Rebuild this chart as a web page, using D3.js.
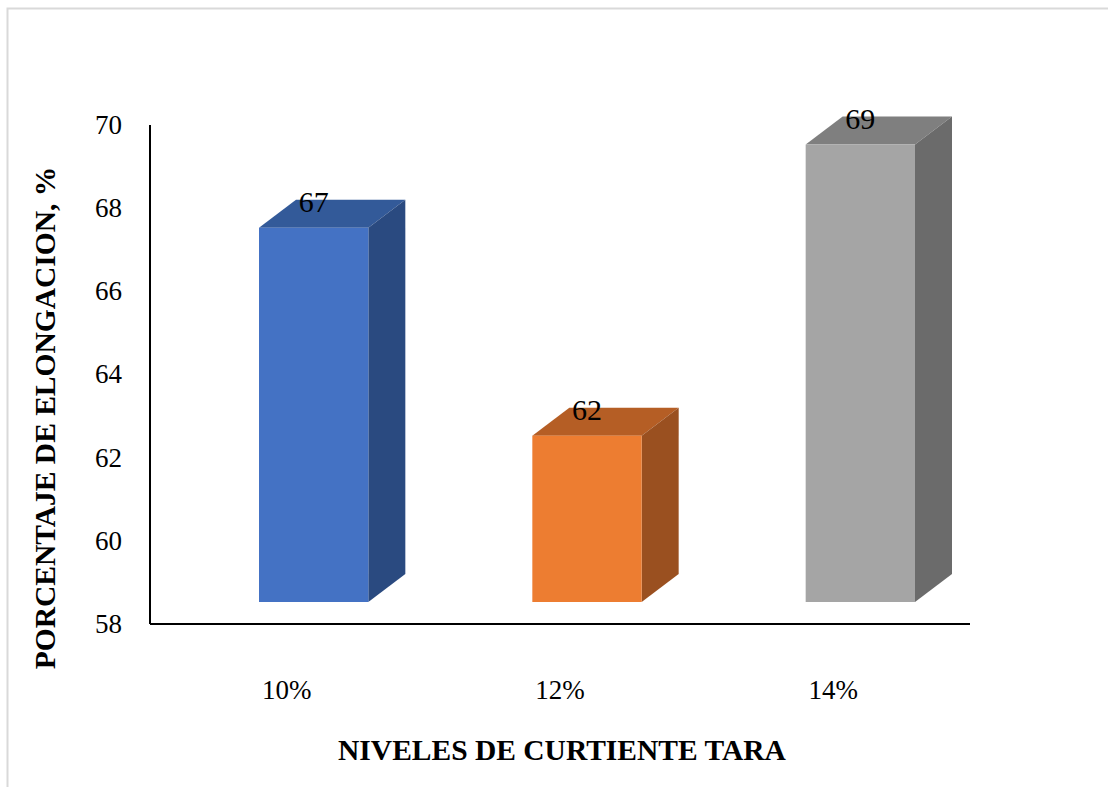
<!DOCTYPE html>
<html>
<head>
<meta charset="utf-8">
<script src="https://cdn.jsdelivr.net/npm/d3@7"></script>
<style>
	body { margin: 0; background: #fff; }
	text { font-family: "Liberation Serif", "Times New Roman", serif; }
</style>
</head>
<body>
<svg id="chart"></svg>
<script>
// data
const categories = ["10%", "12%", "14%"];
const values = [67, 62, 69];
const yTicks = [58, 60, 62, 64, 66, 68, 70];
const faceColors = ["#4472c4", "#ed7d31", "#a5a5a5"];
const topColors = ["#335a99", "#b55e25", "#7f7f7f"];
const sideColors = ["#2a4a80", "#9a5020", "#6b6b6b"];

const svgWidth = 1108, svgHeight = 787;
let svg = d3.select("#chart")
	.attr("width", svgWidth)
	.attr("height", svgHeight)
	.style("display", "block");

// outer frame
svg.append("rect")
	.attr("x", 7.5)
	.attr("y", 8.5)
	.attr("width", 1120)
	.attr("height", 800)
	.attr("fill", "none")
	.attr("stroke", "#d9d9d9")
	.attr("stroke-width", 2);

let margin = { left: 150, top: 125, right: 970, bottom: 624 };

//scales
let x = d3.scaleBand()
	.domain(categories)
	.range([margin.left, margin.right]);
let y = d3.scaleLinear()
	.domain([58, 70])
	.range([margin.bottom, margin.top]);

// 3d offsets
let frontDx = 27, frontDy = -22;
let depthDx = 37, depthDy = -28;
let barW = x.bandwidth() * 0.4;

//axes
svg.append("line")
	.attr("x1", margin.left).attr("x2", margin.left)
	.attr("y1", margin.top).attr("y2", margin.bottom)
	.attr("stroke", "#000").attr("stroke-width", 2);
svg.append("line")
	.attr("x1", margin.left).attr("x2", margin.right)
	.attr("y1", margin.bottom).attr("y2", margin.bottom)
	.attr("stroke", "#000").attr("stroke-width", 2);

svg.selectAll(".ytick")
	.data(yTicks)
	.enter()
	.append("text")
	.attr("class", "ytick")
	.attr("x", 122)
	.attr("y", d => y(d))
	.attr("dy", "0.33em")
	.attr("text-anchor", "end")
	.attr("font-size", 27)
	.text(d => d);

svg.selectAll(".xtick")
	.data(categories)
	.enter()
	.append("text")
	.attr("class", "xtick")
	.attr("x", d => x(d) + x.bandwidth() / 2)
	.attr("y", 699)
	.attr("text-anchor", "middle")
	.attr("font-size", 27)
	.text(d => d);

// bars
let bars = svg.selectAll(".bar")
	.data(values)
	.enter()
	.append("g")
	.attr("class", "bar");

bars.each(function (v, i)
{
	let g = d3.select(this);
	let x0 = x(categories[i]) + x.bandwidth() / 2 + frontDx - barW / 2;
	let x1 = x0 + barW;
	let yt = y(v) + frontDy;
	let yb = y(58) + frontDy;

	// top face
	g.append("path")
		.attr("d", "M" + x0 + "," + yt + "L" + (x0 + depthDx) + "," + (yt + depthDy) +
			"L" + (x1 + depthDx) + "," + (yt + depthDy) + "L" + x1 + "," + yt + "Z")
		.attr("fill", topColors[i]);
	// side face
	g.append("path")
		.attr("d", "M" + x1 + "," + yt + "L" + (x1 + depthDx) + "," + (yt + depthDy) +
			"L" + (x1 + depthDx) + "," + (yb + depthDy) + "L" + x1 + "," + yb + "Z")
		.attr("fill", sideColors[i]);
	// front face
	g.append("rect")
		.attr("x", x0)
		.attr("y", yt)
		.attr("width", barW)
		.attr("height", yb - yt)
		.attr("fill", faceColors[i]);

	// value label
	g.append("text")
		.attr("x", (x0 + x1) / 2)
		.attr("y", yt - 16)
		.attr("text-anchor", "middle")
		.attr("font-size", 30)
		.text(v);
});

// axis titles
svg.append("text")
	.attr("transform", "translate(55,418) rotate(-90)")
	.attr("text-anchor", "middle")
	.attr("font-size", 29.5)
	.attr("font-weight", "bold")
	.text("PORCENTAJE DE ELONGACION, %");

svg.append("text")
	.attr("x", 562)
	.attr("y", 760)
	.attr("text-anchor", "middle")
	.attr("font-size", 29.5)
	.attr("font-weight", "bold")
	.text("NIVELES DE CURTIENTE TARA");
</script>
</body>
</html>
